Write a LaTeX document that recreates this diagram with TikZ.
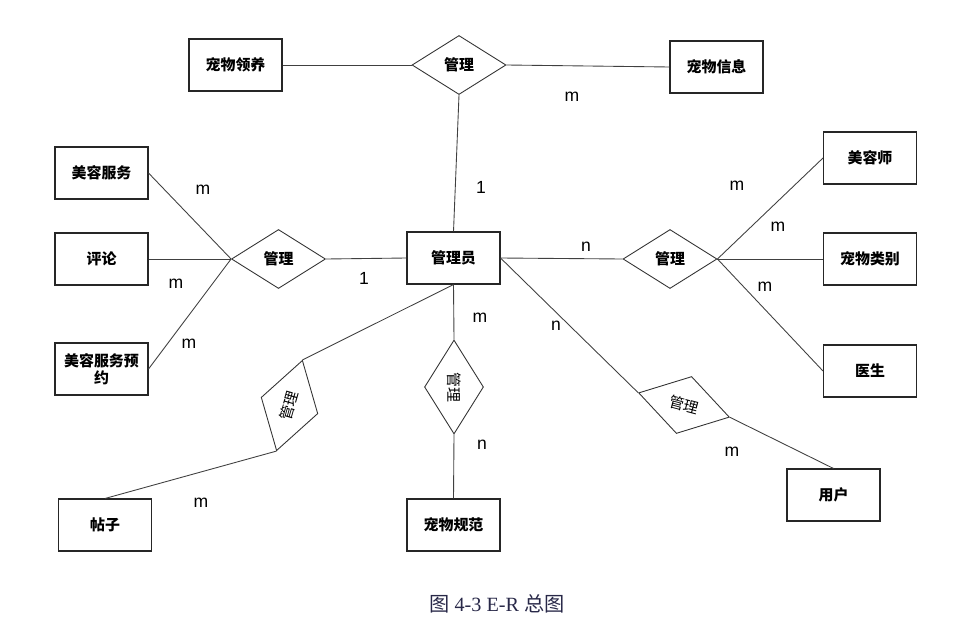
\documentclass[tikz,border=0pt]{standalone}
\usepackage{fontspec}
\setmainfont{Liberation Sans}
\newfontfamily\cjk{Noto Sans CJK SC}
\newfontfamily\capserif{Liberation Serif}
\usetikzlibrary{shapes.geometric}
\definecolor{capcol}{RGB}{40,40,72}
\begin{document}
\begin{tikzpicture}[x=0.02cm, y=-0.02cm,
  every node/.style={font=\cjk\bfseries\fontsize{8.5}{10}\selectfont},
  entity/.style={draw=black!85,line width=0.6pt,minimum width=1.86cm,minimum height=1.04cm,inner sep=1pt},
  rel/.style={draw=black!80,line width=0.5pt,diamond,minimum width=1.88cm,minimum height=1.18cm,inner sep=0pt},
  link/.style={draw=black!75,line width=0.5pt},
  card/.style={font=\fontsize{10}{12}\selectfont}]
\useasboundingbox (0,0) rectangle (972,635);
% entities
\node[entity] (lingyang) at (235.5,65) {宠物领养};
\node[entity] (xinxi) at (716.5,67) {宠物信息};
\node[entity] (meirong) at (101.5,173) {美容服务};
\node[entity] (pinglun) at (101.5,259) {评论};
\node[entity,align=center] (yuyue) at (101.5,369) {美容服务预\\约};
\node[entity] (admin) at (453.5,258) {管理员};
\node[entity] (meirongshi) at (870,158) {美容师};
\node[entity] (leibie) at (870,259) {宠物类别};
\node[entity] (yisheng) at (870,371) {医生};
\node[entity] (tiezi) at (105,525) {帖子};
\node[entity] (guifan) at (453.5,525) {宠物规范};
\node[entity] (yonghu) at (833.5,495) {用户};
% relationships
\node[rel] (gl1) at (459,65) {管理};
\node[rel] (gl2) at (278.5,259) {管理};
\node[rel] (gl3) at (670,259) {管理};
\node[rel,rotate=74,font=\cjk\fontsize{8.5}{10}\selectfont] (gl4) at (289.5,405.5) {管理};
\node[rel,rotate=-90,font=\cjk\fontsize{8.5}{10}\selectfont] (gl5) at (454,387) {管理};
\node[rel,rotate=-15,font=\cjk\fontsize{8.5}{10}\selectfont] (gl6) at (684,405) {管理};
% connectors
\draw[link] (lingyang.east) -- (gl1.west);
\draw[link] (gl1.east) -- (xinxi.west);
\draw[link] (gl1.south) -- (admin.north);
\draw[link] (meirong.east) -- (gl2.west);
\draw[link] (pinglun.east) -- (gl2.west);
\draw[link] (yuyue.east) -- (gl2.west);
\draw[link] (gl2.east) -- (admin.west);
\draw[link] (admin.east) -- (gl3.west);
\draw[link] (gl3.east) -- (meirongshi.west);
\draw[link] (gl3.east) -- (leibie.west);
\draw[link] (gl3.east) -- (yisheng.west);
\draw[link] (admin.south) -- (gl4.east);
\draw[link] (gl4.west) -- (tiezi.north);
\draw[link] (admin.south) -- (gl5.west);
\draw[link] (gl5.east) -- (guifan.north);
\draw[link] (admin.east) -- (gl6.west);
\draw[link] (gl6.east) -- (yonghu.north);
% cardinalities
\node[card] (c1) at (572,97) {m};
\node[card] (c2) at (481,187) {1};
\node[card] (c3) at (203,190) {m};
\node[card] (c4) at (176,284) {m};
\node[card] (c5) at (364,278) {1};
\node[card] (c6) at (189,344) {m};
\node[card] (c7) at (586,247) {n};
\node[card] (c8) at (737,186) {m};
\node[card] (c9) at (778,227) {m};
\node[card] (c10) at (765,287) {m};
\node[card] (c11) at (556,326) {n};
\node[card] (c12) at (480,318) {m};
\node[card] (c13) at (482,445) {n};
\node[card] (c14) at (201,503) {m};
\node[card] (c15) at (732,452) {m};
% caption
\node[text=capcol,font=\capserif\fontsize{11.5}{13}\selectfont] (cap) at (497,604) {{\cjk 图} 4-3 E-R {\cjk 总图}};
\end{tikzpicture}
\end{document}
